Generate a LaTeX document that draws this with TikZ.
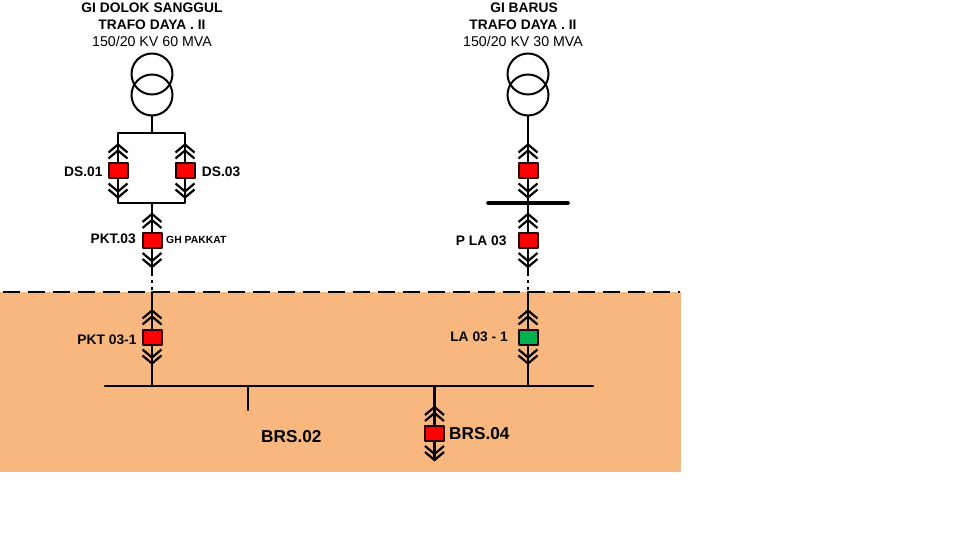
\documentclass[tikz,border=0pt]{standalone}
\usepackage{fontspec}
\setmainfont{Liberation Sans}
\definecolor{zonefill}{HTML}{F9B780}
\definecolor{brkgreen}{HTML}{00B050}
\tikzset{
	feeder/.style={line width=2.2pt},
	brk/.style={draw=black!85!red, line width=2pt, minimum width=19pt, minimum height=15pt, inner sep=0pt, outer sep=1pt},
	chev/.pic={
		\draw[line width=2.2pt, line cap=butt, miter limit=10, line join=miter] (-9.5,8) -- (0,0) -- (9.5,8);
		\draw[line width=2.2pt, line cap=butt, miter limit=10, line join=miter] (-9.5,14) -- (0,6) -- (9.5,14);
	},
	trafo/.style={draw, circle, line width=2pt, minimum size=41pt, inner sep=0pt, outer sep=1pt},
	title/.style={font=\bfseries\fontsize{13.8}{15}\selectfont, inner sep=0pt, anchor=base},
	rating/.style={font=\fontsize{14.2}{16}\selectfont, inner sep=0pt, anchor=base},
	tag/.style={font=\bfseries\fontsize{13.8}{15}\selectfont, inner sep=0pt},
	bigtag/.style={font=\bfseries\fontsize{17.2}{19}\selectfont, inner sep=0pt}
}
\begin{document}
\begin{tikzpicture}[x=1pt, y=-1pt, line cap=round, line join=round]
	\useasboundingbox (0,0) rectangle (960,540);
	\fill[zonefill] (0,292) rectangle (681,472);
	\draw[line width=2.4pt, line cap=butt, dash pattern=on 17pt off 8pt, dash phase=21.7pt] (0,292) -- (680,292);
	\node[title] (tleft) at (152,12.7) {GI DOLOK SANGGUL};
	\node[title] (tleftb) at (152,30) {TRAFO DAYA . II};
	\node[rating] (rleft) at (152,46.5) {150/20 KV 60 MVA};
	\node[title] (tright) at (524,12.7) {GI BARUS};
	\node[title] (trightb) at (523,30) {TRAFO DAYA . II};
	\node[rating] (rright) at (523,46.5) {150/20 KV 30 MVA};
	\node[trafo] (tra) at (152,74) {};
	\node[trafo] (trb) at (152,95) {};
	\node[trafo] (trc) at (528,74) {};
	\node[trafo] (trd) at (528,95) {};
	\foreach \nm/\x/\y/\fc in {ds01/118/171/red, ds03/185/171/red, pkt03/152/240.5/red, gb/528/171/red, pla03/528/240.5/red, pkt031/152/337/red, la031/528/337/brkgreen, brs04/434.5/433.5/red}{
		\node[brk, fill=\fc] (\nm) at (\x,\y) {};
		\path (\nm.north) ++(0,-18) pic {chev};
		\path (\nm.south) ++(0,18) pic[yscale=-1] {chev};
		\draw[feeder] (\nm.south) -- ++(0,18);
	}
	\coordinate (jtop) at (152,133);
	\coordinate (jlow) at (152,203);
	\coordinate (pktend) at (152,273);
	\coordinate (plaend) at (528,273);
	\coordinate (pktcut) at (152,292);
	\coordinate (placut) at (528,292);
	\coordinate (barl) at (488,203);
	\coordinate (barr) at (568,203);
	\coordinate (busl) at (105,386);
	\coordinate (busr) at (593,386);
	\draw[feeder] (trb.south) -- (jtop);
	\draw[feeder] (ds01.north) |- (jtop) -| (ds03.north);
	\draw[feeder] (ds01.south) |- (jlow) -| (ds03.south);
	\draw[feeder] (jlow) -- (pkt03.north);
	\draw[feeder] (pkt03.south) -- (pktend);
	\draw[feeder, line cap=butt, dash pattern=on 3pt off 4pt] (pktend) -- (pktcut);
	\draw[feeder] (pktcut) -- (pkt031.north);
	\draw[feeder] (pkt031.south) -- (pkt031 |- busl);
	\draw[feeder] (trd.south) -- (gb.north);
	\draw[feeder] (gb.south) -- (pla03.north);
	\draw[line width=3.6pt] (barl) -- (barr);
	\draw[feeder] (pla03.south) -- (plaend);
	\draw[feeder, line cap=butt, dash pattern=on 3pt off 4pt] (plaend) -- (placut);
	\draw[feeder] (placut) -- (la031.north);
	\draw[feeder] (la031.south) -- (la031 |- busl);
	\draw[feeder] (busl) -- (busr);
	\coordinate (stub) at (247.7,410);
	\draw[feeder] (stub |- busl) -- (stub);
	\draw[feeder] (brs04 |- busl) -- (brs04.north);
	\node[tag, anchor=base east] (lds01) at (102.7,177) {DS.01};
	\node[tag, anchor=base west] (lds03) at (201.7,177) {DS.03};
	\node[tag, anchor=base east] (lpkt03) at (136,243.5) {PKT.03};
	\node[font=\bfseries\fontsize{10.4}{12}\selectfont, inner sep=0pt, anchor=base west] (lgh) at (166,243) {GH PAKKAT};
	\node[tag, anchor=base east] (lpla03) at (506.7,245) {P LA 03};
	\node[tag, anchor=base east] (lpkt031) at (136.7,344) {PKT 03-1};
	\node[tag, anchor=base east] (lla031) at (508,341) {LA 03 - 1};
	\node[bigtag, anchor=base west] (lbrs02) at (261,442) {BRS.02};
	\node[bigtag, anchor=base west] (lbrs04) at (449,439.5) {BRS.04};
\end{tikzpicture}
\end{document}
